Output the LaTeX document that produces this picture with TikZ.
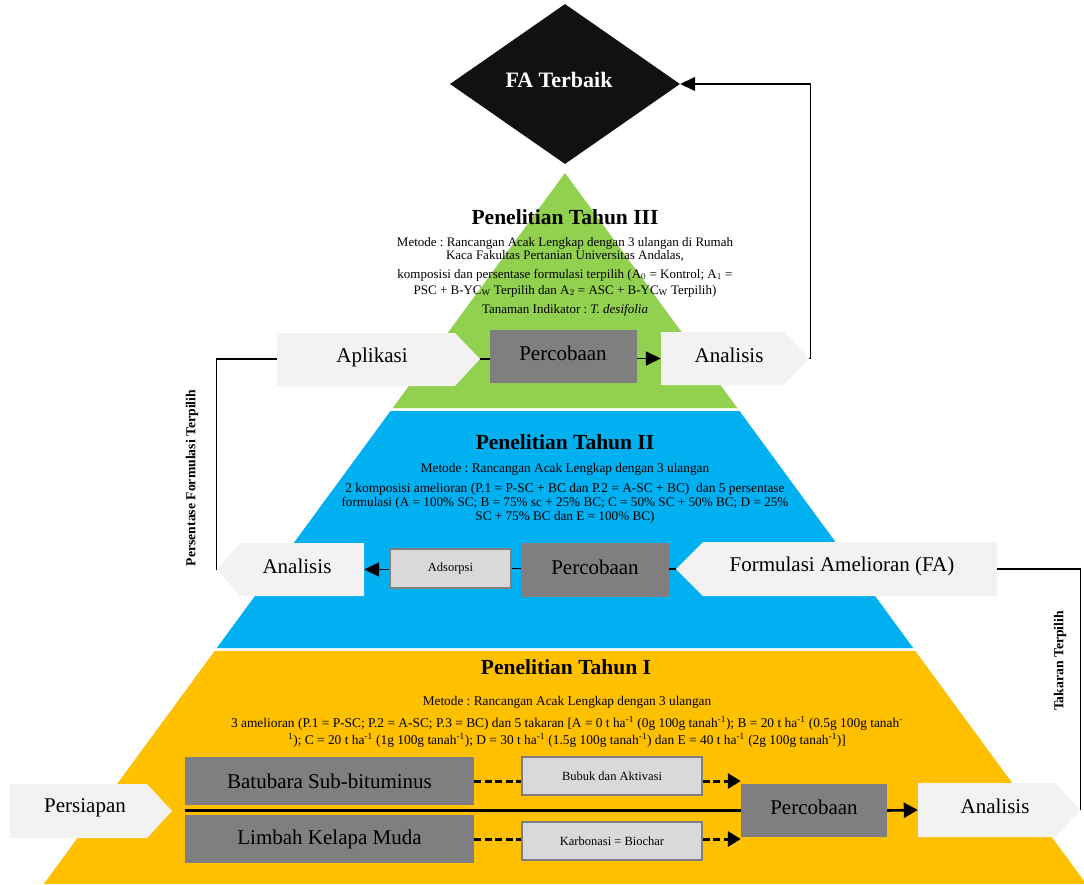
\documentclass[tikz,border=0pt]{standalone}
\usepackage{fontspec}
\setmainfont{Liberation Serif}
\usetikzlibrary{shapes.geometric,arrows.meta}
\definecolor{cgreen}{HTML}{92D050}
\definecolor{cblue}{HTML}{00B0F0}
\definecolor{cyellow}{HTML}{FFC000}
\definecolor{cgray}{HTML}{7F7F7F}
\definecolor{clight}{HTML}{F2F2F2}
\definecolor{cbox}{HTML}{D9D9D9}
\definecolor{cdia}{HTML}{111111}
\newcommand{\sps}[1]{\textsuperscript{#1}}
\frenchspacing
\begin{document}
\begin{tikzpicture}[x=1pt,y=-1pt,
  anchorbox/.style={rectangle, inner sep=0pt},
  lbl/.style={font=\fontsize{21}{23}\selectfont, inner sep=0pt},
  graybox/.style={rectangle, fill=cgray, inner sep=0pt},
  smallbox/.style={rectangle, fill=cbox, draw=cgray, line width=1.8pt, inner sep=0pt, font=\fontsize{12.5}{14}\selectfont},
  conn/.style={line width=1.6pt},
  outer/.style={line width=1.3pt},
  arr/.style={line width=1.8pt, -{Triangle[length=15pt,width=14pt]}},
  heading/.style={font=\fontsize{21.5}{24}\selectfont\bfseries, inner sep=0pt},
  body/.style={font=\fontsize{13}{14}\selectfont, align=center, inner sep=0pt},
  vlabel/.style={font=\fontsize{13.7}{15}\selectfont\bfseries, rotate=90, inner sep=0pt}
]
\useasboundingbox (0,0) rectangle (1084,884);
% pyramid
\fill[cgreen] (565,173) -- (737.3,408) -- (392.7,408) -- cycle;
\fill[cblue] (390.5,411) -- (739.5,411) -- (913.2,648) -- (216.8,648) -- cycle;
\fill[cyellow] (214.6,651) -- (915.4,651) -- (1086.2,884) -- (43.8,884) -- cycle;

% diamond
\node[diamond, fill=cdia, minimum width=230pt, minimum height=160pt, inner sep=0pt] (fa) at (565,84) {};
\node[font=\fontsize{22}{24}\selectfont\bfseries, text=white, inner sep=0pt] (fat) at (559,80) {FA Terbaik};

% Tahun III text
\node[heading] (h3) at (565,217) {Penelitian Tahun III};
\node[body] (m3a) at (565,243) {Metode : Rancangan Acak Lengkap dengan 3 ulangan di Rumah};
\node[body] (m3b) at (565,256) {Kaca Fakultas Pertanian Universitas Andalas,};
\node[body] (m3c) at (565,275) {komposisi dan persentase formulasi terpilih (A$_0$ = Kontrol; A$_1$ =};
\node[body] (m3d) at (565,291) {PSC + B-YC$_\mathrm{W}$ Terpilih dan A$_2$ = ASC + B-YC$_\mathrm{W}$ Terpilih)};
\node[body] (m3e) at (565,310) {Tanaman Indikator : \textit{T. desifolia}};

% Tahun III row
\fill[clight] (277,333) -- (455,333) -- (480,359) -- (455,386) -- (277,386) -- cycle;
\node[anchorbox, minimum width=203pt, minimum height=53pt] (apl) at (378.5,359) {};
\node[lbl] (aplx) at (372,357) {Aplikasi};
\node[graybox, minimum width=147pt, minimum height=53pt] (p3) at (563.5,356.5) {};
\node[lbl] (p3x) at (563,353) {Percobaan};
\fill[clight] (661,332) -- (784,332) -- (809,358.5) -- (784,385) -- (661,385) -- cycle;
\node[anchorbox, minimum width=148pt, minimum height=53pt] (an3) at (735,358.5) {};
\node[lbl] (an3x) at (729,355) {Analisis};

\draw[conn] (apl.east) -- (p3.west |- apl.east);
\draw[arr] (p3.east |- an3.west) -- (an3.west);
\draw[outer, -{Triangle[length=15pt,width=14pt]}] (an3.east) -- ++(1,0) |- (fa.east);

% Tahun II text
\node[heading] (h2) at (565,442) {Penelitian Tahun II};
\node[body, font=\fontsize{13.3}{14}\selectfont] (m2a) at (565,469) {Metode : Rancangan Acak Lengkap dengan 3 ulangan};
\node[body, font=\fontsize{13.4}{14}\selectfont] (m2b) at (565,489) {2 komposisi amelioran (P.1 = P-SC + BC dan P.2 = A-SC + BC)~~dan 5 persentase};
\node[body, font=\fontsize{13.2}{14}\selectfont] (m2c) at (565,503) {formulasi (A = 100\% SC; B = 75\% sc + 25\% BC; C = 50\% SC + 50\% BC; D = 25\%};
\node[body, font=\fontsize{13.2}{14}\selectfont] (m2d) at (565,517) {SC + 75\% BC dan E = 100\% BC)};

% Tahun II row
\fill[clight] (217,569.5) -- (240,543) -- (364,543) -- (364,596) -- (240,596) -- cycle;
\node[anchorbox, minimum width=147pt, minimum height=53pt] (an2) at (290.5,569.5) {};
\node[lbl] (an2x) at (297,566) {Analisis};
\node[smallbox, minimum width=121pt, minimum height=39pt] (ads) at (450.5,568.5) {Adsorpsi};
\node[graybox, minimum width=148pt, minimum height=54pt] (p2) at (595,570) {};
\node[lbl] (p2x) at (595,567) {Percobaan};
\fill[clight] (676,569) -- (703,542) -- (997,542) -- (997,596) -- (703,596) -- cycle;
\node[anchorbox, minimum width=321pt, minimum height=54pt] (form) at (836.5,569) {};
\node[lbl] (formx) at (842,566) {Formulasi Amelioran (FA)};

\draw[outer] (apl.west) -| (an2.west);
\draw[arr] (ads.west |- an2.east) -- (an2.east);
\draw[conn] (p2.west |- ads.east) -- (ads.east);
\draw[conn] (form.west) -- (p2.east |- form.west);
\node[vlabel] (lab1) at (192,478) {Persentase Formulasi Terpilih};

% Tahun I text
\node[heading] (h1) at (566,667) {Penelitian Tahun I};
\node[body, font=\fontsize{13.3}{14}\selectfont] (m1a) at (567,702) {Metode : Rancangan Acak Lengkap dengan 3 ulangan};
\node[body, font=\fontsize{13.4}{14}\selectfont] (m1b) at (567,723) {3 amelioran (P.1 = P-SC; P.2 = A-SC; P.3 = BC) dan 5 takaran [A = 0 t ha\sps{-1} (0g 100g tanah\sps{-1}); B = 20 t ha\sps{-1} (0.5g 100g tanah\sps{-}};
\node[body, font=\fontsize{13.4}{14}\selectfont] (m1c) at (567,740) {\sps{1}); C = 20 t ha\sps{-1} (1g 100g tanah\sps{-1}); D = 30 t ha\sps{-1} (1.5g 100g tanah\sps{-1}) dan E = 40 t ha\sps{-1} (2g 100g tanah\sps{-1})]};

% Tahun I row
\fill[clight] (10,784) -- (147,784) -- (172,811) -- (147,838) -- (10,838) -- cycle;
\node[anchorbox, minimum width=162pt, minimum height=54pt] (pers) at (91,811) {};
\node[lbl] (persx) at (85,808) {Persiapan};
\node[graybox, minimum width=289pt, minimum height=48pt, lbl] (batu) at (329.5,781) {Batubara Sub-bituminus};
\node[graybox, minimum width=289pt, minimum height=48pt, lbl] (limb) at (329.5,839) {Limbah Kelapa Muda};
\node[smallbox, minimum width=180pt, minimum height=38pt] (bub) at (612,776) {Bubuk dan Aktivasi};
\node[smallbox, minimum width=180pt, minimum height=38pt] (karb) at (612,841) {Karbonasi = Biochar};
\node[graybox, minimum width=146pt, minimum height=53pt] (p1) at (814,810.5) {};
\node[lbl] (p1x) at (814,807) {Percobaan};
\fill[clight] (918,783) -- (1055,783) -- (1080,810) -- (1055,837) -- (918,837) -- cycle;
\node[anchorbox, minimum width=162pt, minimum height=54pt] (an1) at (999,810) {};
\node[lbl] (an1x) at (995,806) {Analisis};

\draw[line width=3pt] (batu.west |- p1.west) -- (p1.west);
\draw[line width=3pt, dash pattern=on 7pt off 3.5pt] (batu.east) -- (bub.west |- batu.east);
\draw[line width=3pt, dash pattern=on 7pt off 3.5pt, -{Triangle[length=13pt,width=15pt]}] (bub.east |- batu.east) -- (p1.west |- batu.east);
\draw[line width=3pt, dash pattern=on 7pt off 3.5pt] (limb.east) -- (karb.west |- limb.east);
\draw[line width=3pt, dash pattern=on 7pt off 3.5pt, -{Triangle[length=13pt,width=15pt]}] (karb.east |- limb.east) -- (p1.west |- limb.east);
\draw[line width=2.6pt, -{Triangle[length=14pt,width=15pt]}] (p1.east) -- (an1.west);

\draw[outer] (form.east) -| (an1.east);
\node[vlabel] (lab2) at (1060,661) {Takaran Terpilih};
\end{tikzpicture}
\end{document}
